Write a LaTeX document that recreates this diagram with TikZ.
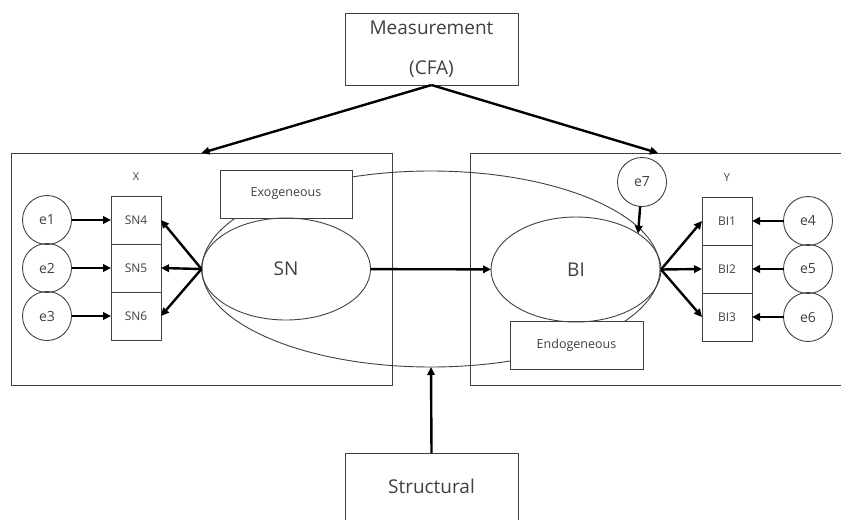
\documentclass[tikz,border=0pt]{standalone}
\usepackage{fontspec}
\setmainfont{Open Sans}
\usetikzlibrary{shapes.geometric,arrows.meta}

\begin{document}
\begin{tikzpicture}[x=1pt,y=-1pt,
  ink/.style={draw=black!75, line width=0.9pt},
  box/.style={ink, rectangle, inner sep=0pt, outer sep=0pt, text=black!75},
  oval/.style={ink, ellipse, inner sep=0pt, outer sep=0pt, text=black!75},
  err/.style={ink, circle, minimum size=49pt, inner sep=0pt, outer sep=0pt,
    text=black!75, font=\fontsize{14}{16}\selectfont},
  ind/.style={box, minimum width=50pt, minimum height=48pt,
    font=\fontsize{12}{14}\selectfont},
  tag/.style={box, fill=white, minimum height=48pt,
    font=\fontsize{12.5}{14}\selectfont},
  big/.style={font=\fontsize{19}{40}\selectfont},
  link/.style={line width=2.4pt, -{Triangle[length=8pt,width=7.5pt]}},
]
\useasboundingbox (0,0) rectangle (841,520);

% measurement model header
\node[box, big, minimum width=173pt, minimum height=72pt, align=center]
  (meas) at (431.5,49) {Measurement\\(CFA)};

% frames of the exogenous (X) and endogenous (Y) blocks
\node[box, minimum width=381pt, minimum height=232pt] (xbox) at (201.5,269) {};
\draw[ink] (841,153) -| (470,385) -- (841,385);
\coordinate (ytop) at (658,153);
\node[text=black!75, font=\fontsize{11}{13}\selectfont] (xlab) at (136,177) {X};
\node[text=black!75, font=\fontsize{11}{13}\selectfont] (ylab) at (727,178) {Y};

% structural part enclosing both latent variables
\node[oval, minimum width=458pt, minimum height=196pt] (outer) at (431,269) {};
\node[tag, minimum width=132pt] (exo) at (286,194) {Exogeneous};
\node[tag, minimum width=133pt] (endo) at (576.5,345) {Endogeneous};

% latent variables
\node[oval, big, minimum width=169pt, minimum height=102pt] (sn) at (286,269) {SN};
\node[oval, big, minimum width=170pt, minimum height=105pt] (bi) at (576,269.5) {BI};

% indicators
\node[ind] (sn4) at (136,220) {SN4};
\node[ind] (sn5) at (136,268) {SN5};
\node[ind] (sn6) at (136,316) {SN6};
\node[ind] (bi1) at (727,221) {BI1};
\node[ind] (bi2) at (727,269) {BI2};
\node[ind] (bi3) at (727,317) {BI3};

% error terms
\node[err] (e1) at (47,220) {e1};
\node[err] (e2) at (47,268) {e2};
\node[err] (e3) at (47,316) {e3};
\node[err] (e4) at (808,221) {e4};
\node[err] (e5) at (808,269) {e5};
\node[err] (e6) at (808,317) {e6};
\node[err] (e7) at (642,182) {e7};

% structural model footer (runs off the bottom edge)
\node[text=black!75, big] (struct) at (431.5,486) {Structural};
\draw[ink] (345,520) |- (518,453) -- (518,520);
\coordinate (structtop) at (431.5,453);

% paths
\draw[link] (meas.south) -- (xbox.north);
\draw[link] (meas.south) -- (ytop);
\draw[link] (structtop) -- (outer.south);
\draw[link] (sn) -- (bi);
\draw[link] (sn.west) -- (sn4.east);
\draw[link] (sn.west) -- (sn5.east);
\draw[link] (sn.west) -- (sn6.east);
\draw[link] (bi.east) -- (bi1.west);
\draw[link] (bi.east) -- (bi2.west);
\draw[link] (bi.east) -- (bi3.west);
\draw[link] (e1) -- (sn4);
\draw[link] (e2) -- (sn5);
\draw[link] (e3) -- (sn6);
\draw[link] (e4) -- (bi1);
\draw[link] (e5) -- (bi2);
\draw[link] (e6) -- (bi3);
\draw[link] (e7) -- (bi.30);
\end{tikzpicture}
\end{document}
